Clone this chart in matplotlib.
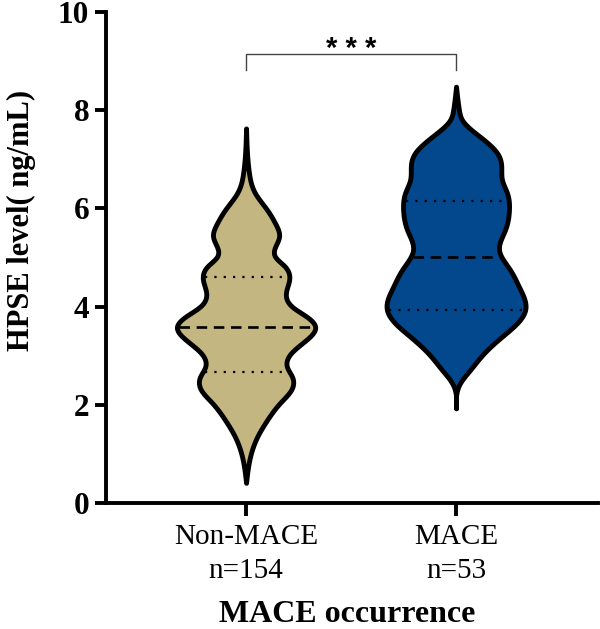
import numpy as np
import matplotlib
matplotlib.use("Agg")
import matplotlib.pyplot as plt

# ---------------- data ----------------
categories = ["Non-MACE", "MACE"]
counts = [154, 53]
fill_colors = ["#C3B680", "#03478C"]

# violin density profiles (y level, half width in category units)
nonmace_y = [0.41, 0.94, 1.34, 1.69, 2.04, 2.30, 2.57, 2.77, 3.05, 3.32, 3.59, 3.79,
             4.00, 4.28, 4.54, 4.81, 5.02, 5.42, 5.70, 5.97, 6.31, 6.72, 7.63]
nonmace_hw = [0.0, 0.019, 0.052, 0.100, 0.162, 0.214, 0.219, 0.195, 0.214, 0.286, 0.329, 0.290,
              0.219, 0.190, 0.205, 0.186, 0.138, 0.157, 0.138, 0.100, 0.043, 0.014, 0.0]
mace_y = [1.93, 2.44, 2.71, 3.05, 3.39, 3.66, 3.93, 4.40, 4.75, 5.15, 5.56, 5.97,
          6.31, 6.58, 6.92, 7.13, 7.46, 7.80, 8.00, 8.48]
mace_hw = [0.0, 0.019, 0.067, 0.133, 0.219, 0.290, 0.329, 0.300, 0.257, 0.205, 0.233, 0.252,
           0.243, 0.219, 0.214, 0.195, 0.114, 0.029, 0.014, 0.0]

# quartiles (Q1, median, Q3)
nonmace_q = [2.66, 3.59, 4.61]
mace_q = [3.93, 5.02, 6.16]

y_ticks = [0, 2, 4, 6, 8, 10]
sig_label = "* * *"


def natural_spline(x, y, xs):
    x = np.asarray(x, float)
    y = np.asarray(y, float)
    n = len(x)
    h = np.diff(x)
    A = np.zeros((n, n))
    r = np.zeros(n)
    A[0, 0] = 1
    A[-1, -1] = 1
    for i in range(1, n - 1):
        A[i, i - 1] = h[i - 1]
        A[i, i] = 2 * (h[i - 1] + h[i])
        A[i, i + 1] = h[i]
        r[i] = 3 * ((y[i + 1] - y[i]) / h[i] - (y[i] - y[i - 1]) / h[i - 1])
    c = np.linalg.solve(A, r)
    b = (y[1:] - y[:-1]) / h - h * (2 * c[:-1] + c[1:]) / 3
    d = (c[1:] - c[:-1]) / (3 * h)
    idx = np.clip(np.searchsorted(x, xs) - 1, 0, n - 2)
    dx = xs - x[idx]
    out = y[idx] + b[idx] * dx + c[idx] * dx ** 2 + d[idx] * dx ** 3
    return np.clip(out, 0, None)


plt.rcParams['font.family'] = ['Liberation Serif', 'DejaVu Serif']

fig = plt.figure(figsize=(6.0, 6.29), dpi=100)
ax = fig.add_axes([106 / 600, 126 / 629, 492 / 600, 491 / 629])

profiles = [(nonmace_y, nonmace_hw, nonmace_q), (mace_y, mace_hw, mace_q)]
for i, (py, phw, q) in enumerate(profiles):
    ys = np.linspace(py[0], py[-1], 600)
    hw = natural_spline(py, phw, ys)
    ax.fill_betweenx(ys, i - hw, i + hw, facecolor=fill_colors[i],
                     edgecolor="black", linewidth=3.5, joinstyle="round", zorder=2)
    for k, qv in enumerate(q):
        w = natural_spline(py, phw, np.array([qv]))[0] - 0.012
        if k == 1:
            ax.plot([i - w, i + w], [qv, qv], color="black", lw=1.9,
                    dashes=(4, 2.5), zorder=3)
        else:
            ax.plot([i - w, i + w], [qv, qv], color="black", lw=1.6,
                    dashes=(1, 3.2), zorder=3)

ax.set_xlim(-0.667, 1.676)
ax.set_ylim(0, 10)
ax.set_yticks(y_ticks)
ax.set_yticklabels([str(t) for t in y_ticks], fontsize=22.5, fontweight="bold")
ax.set_xticks([0, 1])
ax.set_xticklabels([f"{c}\nn={n}" for c, n in zip(categories, counts)],
                   fontsize=21, linespacing=1.42)
for sp in ["top", "right"]:
    ax.spines[sp].set_visible(False)
for sp in ["left", "bottom"]:
    ax.spines[sp].set_linewidth(2.8)
ax.tick_params(axis="y", length=8, width=2.8, pad=4)
ax.tick_params(axis="x", length=9, width=2.8, pad=6)

# significance bracket
ax.plot([0, 0, 1, 1], [8.82, 9.14, 9.14, 8.82], color="#444444", lw=1.0,
        clip_on=False, zorder=4)
ax.text(0.5, 9.24, sig_label, ha="center", va="center", fontsize=21,
        fontweight="bold", family=["Liberation Sans", "DejaVu Sans"])

fig.text(21 / 600, 1 - 220 / 629, "HPSE level( ng/mL)", rotation=90,
         ha="center", va="center", fontsize=22, fontweight="bold")
fig.text(347 / 600, 1 - 615 / 629, "MACE occurrence", ha="center", va="center",
         fontsize=23, fontweight="bold")

fig.savefig("out.png", dpi=100)
